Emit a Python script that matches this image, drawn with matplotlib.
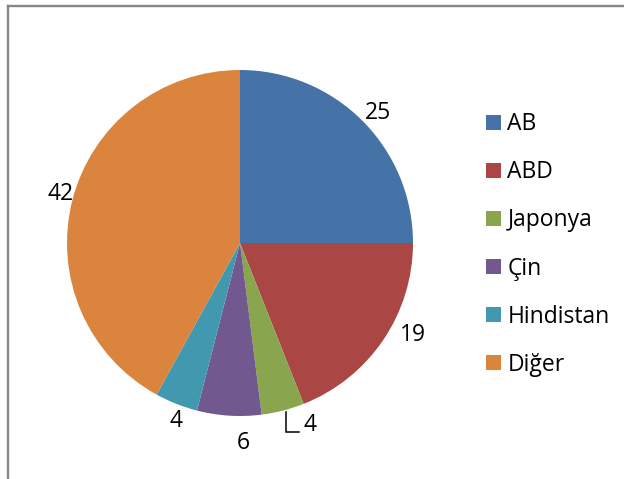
import matplotlib
matplotlib.use("Agg")
import matplotlib.pyplot as plt
from matplotlib.lines import Line2D

plt.rcParams['font.family'] = ['Open Sans', 'DejaVu Sans']

# Data
categories = ['AB', 'ABD', 'Japonya', 'Çin', 'Hindistan', 'Diğer']
values = [25, 19, 4, 6, 4, 42]
colors = ['#4572A7', '#AA4643', '#89A54E', '#71588F', '#4198AF', '#DB843D']
# label placement (x, y) relative to a unit-radius pie
label_pos = [(0.80, 0.75), (1.00, -0.53), (0.405, -1.052), (0.02, -1.156), (-0.37, -1.03), (-1.04, 0.283)]

W, H, DPI = 624, 479, 100
fig = plt.figure(figsize=(W / DPI, H / DPI), dpi=DPI)

# pie centre (240, 243) px, radius 173 px
cx, cy, r = 240, 243, 173
ax = fig.add_axes([(cx - r) / W, (H - cy - r) / H, 2 * r / W, 2 * r / H])
wedges, _ = ax.pie(values, colors=colors, startangle=90, counterclock=False,
                   radius=1, wedgeprops=dict(linewidth=0))
ax.set_xlim(-1, 1)
ax.set_ylim(-1, 1)
ax.set_aspect('equal')
ax.axis('off')

FS = 16.5
for v, (x, y) in zip(values, label_pos):
    ax.text(x, y, str(v), ha='center', va='center', fontsize=FS, color='black', clip_on=False)

# leader line for the small Japonya slice
ax.plot([0.266, 0.266, 0.341], [-0.977, -1.092, -1.092], color='black', lw=1.1,
        clip_on=False, solid_joinstyle='miter')

leg = fig.legend(wedges, categories, loc='center left',
                 bbox_to_anchor=(486 / W, 1 - 244.5 / H), frameon=False,
                 fontsize=FS, handlelength=0.65, handleheight=0.65,
                 handletextpad=0.28, labelspacing=1.05, borderpad=0, borderaxespad=0)

# chart border (top and left only visible)
fig.add_artist(Line2D([7.5 / W, 1], [1 - 5.5 / H, 1 - 5.5 / H], color='#868686', lw=1.7))
fig.add_artist(Line2D([7.5 / W, 7.5 / W], [0, 1 - 5.5 / H], color='#868686', lw=1.7))

fig.savefig('out.png', dpi=DPI)
